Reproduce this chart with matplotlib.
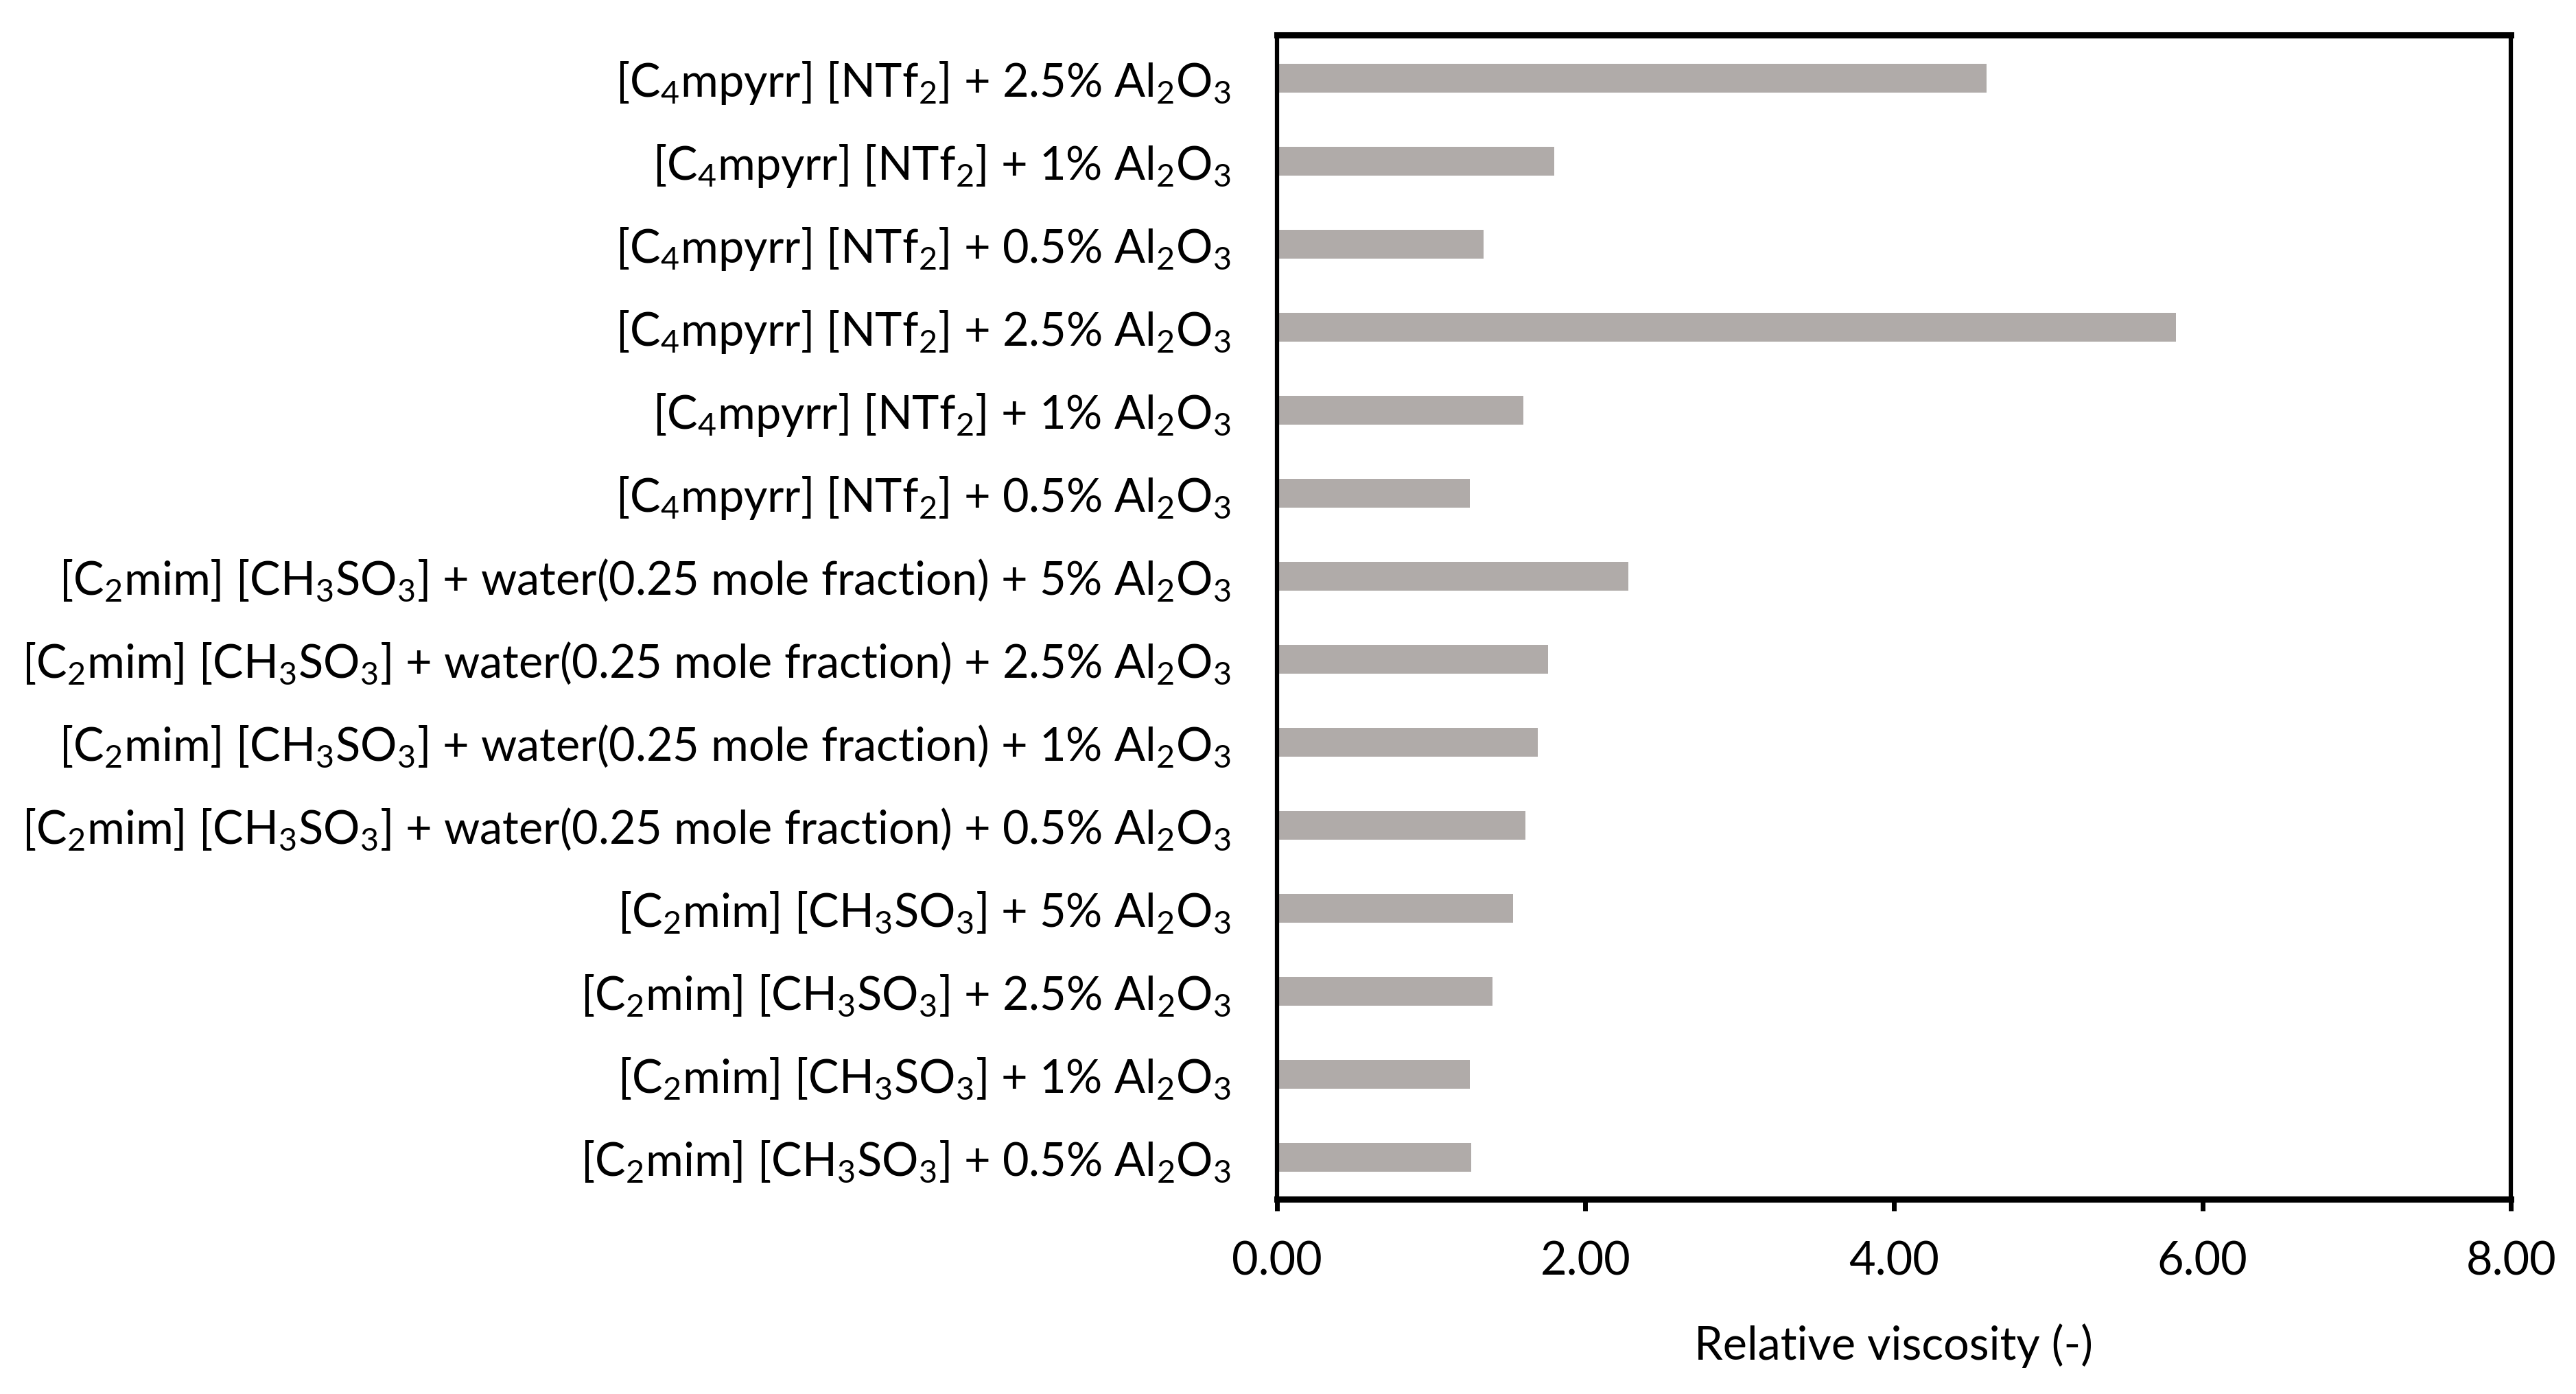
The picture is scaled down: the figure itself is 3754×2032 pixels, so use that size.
import matplotlib.pyplot as plt
import numpy as np

plt.rcParams['font.family'] = ['Lato', 'DejaVu Sans']
plt.rcParams['mathtext.fontset'] = 'custom'
plt.rcParams['mathtext.rm'] = 'Lato'
plt.rcParams['mathtext.it'] = 'Lato'
plt.rcParams['mathtext.bf'] = 'Lato'
plt.rcParams['mathtext.default'] = 'regular'

# top to bottom, as in the chart
labels = [
    r'[C$_4$mpyrr] [NTf$_2$] + 2.5% Al$_2$O$_3$',
    r'[C$_4$mpyrr] [NTf$_2$] + 1% Al$_2$O$_3$',
    r'[C$_4$mpyrr] [NTf$_2$] + 0.5% Al$_2$O$_3$',
    r'[C$_4$mpyrr] [NTf$_2$] + 2.5% Al$_2$O$_3$',
    r'[C$_4$mpyrr] [NTf$_2$] + 1% Al$_2$O$_3$',
    r'[C$_4$mpyrr] [NTf$_2$] + 0.5% Al$_2$O$_3$',
    r'[C$_2$mim] [CH$_3$SO$_3$] + water(0.25 mole fraction) + 5% Al$_2$O$_3$',
    r'[C$_2$mim] [CH$_3$SO$_3$] + water(0.25 mole fraction) + 2.5% Al$_2$O$_3$',
    r'[C$_2$mim] [CH$_3$SO$_3$] + water(0.25 mole fraction) + 1% Al$_2$O$_3$',
    r'[C$_2$mim] [CH$_3$SO$_3$] + water(0.25 mole fraction) + 0.5% Al$_2$O$_3$',
    r'[C$_2$mim] [CH$_3$SO$_3$] + 5% Al$_2$O$_3$',
    r'[C$_2$mim] [CH$_3$SO$_3$] + 2.5% Al$_2$O$_3$',
    r'[C$_2$mim] [CH$_3$SO$_3$] + 1% Al$_2$O$_3$',
    r'[C$_2$mim] [CH$_3$SO$_3$] + 0.5% Al$_2$O$_3$',
]
viscosity = [4.60, 1.80, 1.34, 5.83, 1.60, 1.25, 2.28,
             1.76, 1.69, 1.61, 1.53, 1.40, 1.25, 1.26]
x_ticks = [0, 2, 4, 6, 8]

fig = plt.figure(figsize=(37.55, 20.32), dpi=100)
ax = fig.add_axes([0.4955, 0.140, 0.479, 0.835])

pos = np.arange(len(labels))
ax.barh(pos, viscosity, height=0.35, color='#b0aba9')

ax.set_ylim(len(labels) - 0.5, -0.52)
ax.set_xlim(0, 8)
ax.set_xticks(x_ticks)
ax.set_xticklabels(['%.2f' % t for t in x_ticks])
ax.set_yticks(pos)
ax.set_yticklabels(labels)

ax.tick_params(axis='y', length=0, pad=48, labelsize=48)
ax.tick_params(axis='x', direction='out', length=12, width=5, pad=32, labelsize=48)

for side in ['top', 'bottom']:
    ax.spines[side].set_linewidth(6.5)
for side in ['left', 'right']:
    ax.spines[side].set_linewidth(4.5)

ax.set_xlabel('Relative viscosity (-)', fontsize=48, labelpad=42)

fig.savefig('out.png', dpi=100)
